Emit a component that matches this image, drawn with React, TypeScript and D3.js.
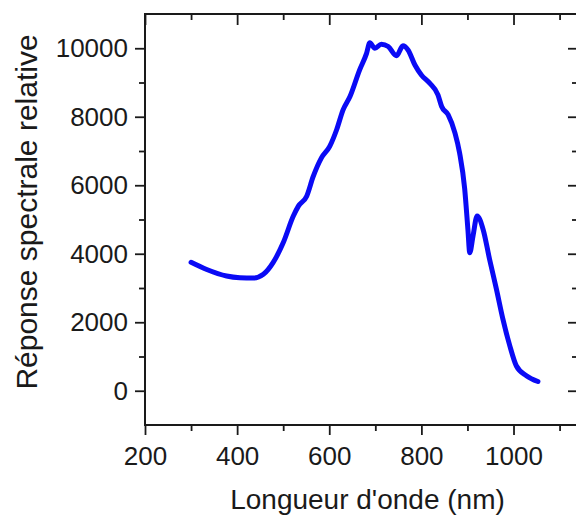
import React, { useEffect, useRef } from 'react';
import * as d3 from 'd3';

// wavelength (nm) and relative spectral response
const wavelength = [300, 334, 377, 406, 435, 457, 478, 500, 522, 533, 551, 565, 583, 601, 616, 630, 645, 666, 681, 688, 699, 713, 728, 746, 760, 771, 786, 800, 818, 836, 844, 858, 873, 883, 894, 901, 905, 912, 921, 934, 948, 963, 977, 992, 1006, 1028, 1053];
const response = [3750, 3540, 3350, 3300, 3290, 3400, 3740, 4320, 5100, 5390, 5680, 6250, 6800, 7135, 7620, 8200, 8590, 9370, 9850, 10160, 10000, 10120, 10050, 9780, 10070, 9950, 9510, 9220, 8980, 8640, 8300, 8060, 7520, 6940, 5900, 4710, 4030, 4510, 5100, 4710, 3840, 2960, 2090, 1310, 730, 440, 270];

const xMajor = [200, 400, 600, 800, 1000];
const xMinor = [300, 500, 700, 900, 1100];
const yMajor = [0, 2000, 4000, 6000, 8000, 10000];
const yMinor = [1000, 3000, 5000, 7000, 9000];

const W = 576, H = 515;
const frame = { left: 145, top: 14, right: 578, bottom: 425 };
const font = '"Liberation Sans", Arial, sans-serif';
const ink = '#1a1a1a';

const App: React.FC = () => {
  const ref = useRef<SVGSVGElement>(null);

  useEffect(() => {
    if (!ref.current) return;
    const svg = d3.select(ref.current);
    svg.selectAll('*').remove();

    const x = d3.scaleLinear().domain([200, 1140]).range([frame.left, frame.right]);
    const y = d3.scaleLinear().domain([-1000, 11000]).range([frame.bottom, frame.top]);
    const fmt = d3.format('d');

    svg.append('rect').attr('width', W).attr('height', H).attr('fill', '#fff');

    const style = (g: d3.Selection<SVGGElement, unknown, null, undefined>) => {
      g.select('.domain').remove();
      g.selectAll('line').attr('stroke', ink).attr('stroke-width', 1.8);
      g.selectAll('text').attr('fill', ink).style('font-family', font).style('font-size', '26px');
    };

    // bottom
    svg.append('g').attr('transform', `translate(0,${frame.bottom})`)
      .call(d3.axisBottom(x).tickValues(xMajor).tickFormat(fmt as any).tickSize(10).tickPadding(12).tickSizeOuter(0))
      .call(style);
    svg.append('g').attr('transform', `translate(0,${frame.bottom})`)
      .call(d3.axisBottom(x).tickValues(xMinor).tickSize(6).tickFormat(() => '').tickSizeOuter(0))
      .call(style);
    // top (inward)
    svg.append('g').attr('transform', `translate(0,${frame.top})`)
      .call(d3.axisTop(x).tickValues(xMajor).tickSize(-11).tickFormat(() => '').tickSizeOuter(0))
      .call(style);
    svg.append('g').attr('transform', `translate(0,${frame.top})`)
      .call(d3.axisTop(x).tickValues(xMinor).tickSize(-6).tickFormat(() => '').tickSizeOuter(0))
      .call(style);
    // left
    svg.append('g').attr('transform', `translate(${frame.left},0)`)
      .call(d3.axisLeft(y).tickValues(yMajor).tickFormat(fmt as any).tickSize(10).tickPadding(7).tickSizeOuter(0))
      .call(style);
    svg.append('g').attr('transform', `translate(${frame.left},0)`)
      .call(d3.axisLeft(y).tickValues(yMinor).tickSize(6).tickFormat(() => '').tickSizeOuter(0))
      .call(style);
    // right (inward)
    svg.append('g').attr('transform', `translate(${frame.right},0)`)
      .call(d3.axisRight(y).tickValues(yMajor).tickSize(-10).tickFormat(() => '').tickSizeOuter(0))
      .call(style);
    svg.append('g').attr('transform', `translate(${frame.right},0)`)
      .call(d3.axisRight(y).tickValues(yMinor).tickSize(-6).tickFormat(() => '').tickSizeOuter(0))
      .call(style);

    svg.append('rect')
      .attr('x', frame.left).attr('y', frame.top)
      .attr('width', frame.right - frame.left).attr('height', frame.bottom - frame.top)
      .attr('fill', 'none').attr('stroke', ink).attr('stroke-width', 2);

    const pts = wavelength.map((w, i) => [w, response[i]] as [number, number]);
    const line = d3.line<[number, number]>()
      .x(d => x(d[0]))
      .y(d => y(d[1]))
      .curve(d3.curveMonotoneX);

    svg.append('path')
      .datum(pts)
      .attr('fill', 'none')
      .attr('stroke', '#0a0af5')
      .attr('stroke-width', 5)
      .attr('stroke-linejoin', 'round')
      .attr('stroke-linecap', 'round')
      .attr('d', line);

    svg.append('text')
      .attr('x', (frame.left + frame.right) / 2 + 6).attr('y', 509)
      .attr('text-anchor', 'middle')
      .attr('fill', ink)
      .style('font-family', font).style('font-size', '28px')
      .text("Longueur d'onde (nm)");

    svg.append('text')
      .attr('transform', `translate(37,${212}) rotate(-90)`)
      .attr('text-anchor', 'middle')
      .attr('fill', ink)
      .style('font-family', font).style('font-size', '30px')
      .text('Réponse spectrale relative');
  }, []);

  return (
    <svg
      ref={ref}
      width={W}
      height={H}
      style={{ position: 'absolute', left: 0, top: 0 }}
    />
  );
};

export default App;
